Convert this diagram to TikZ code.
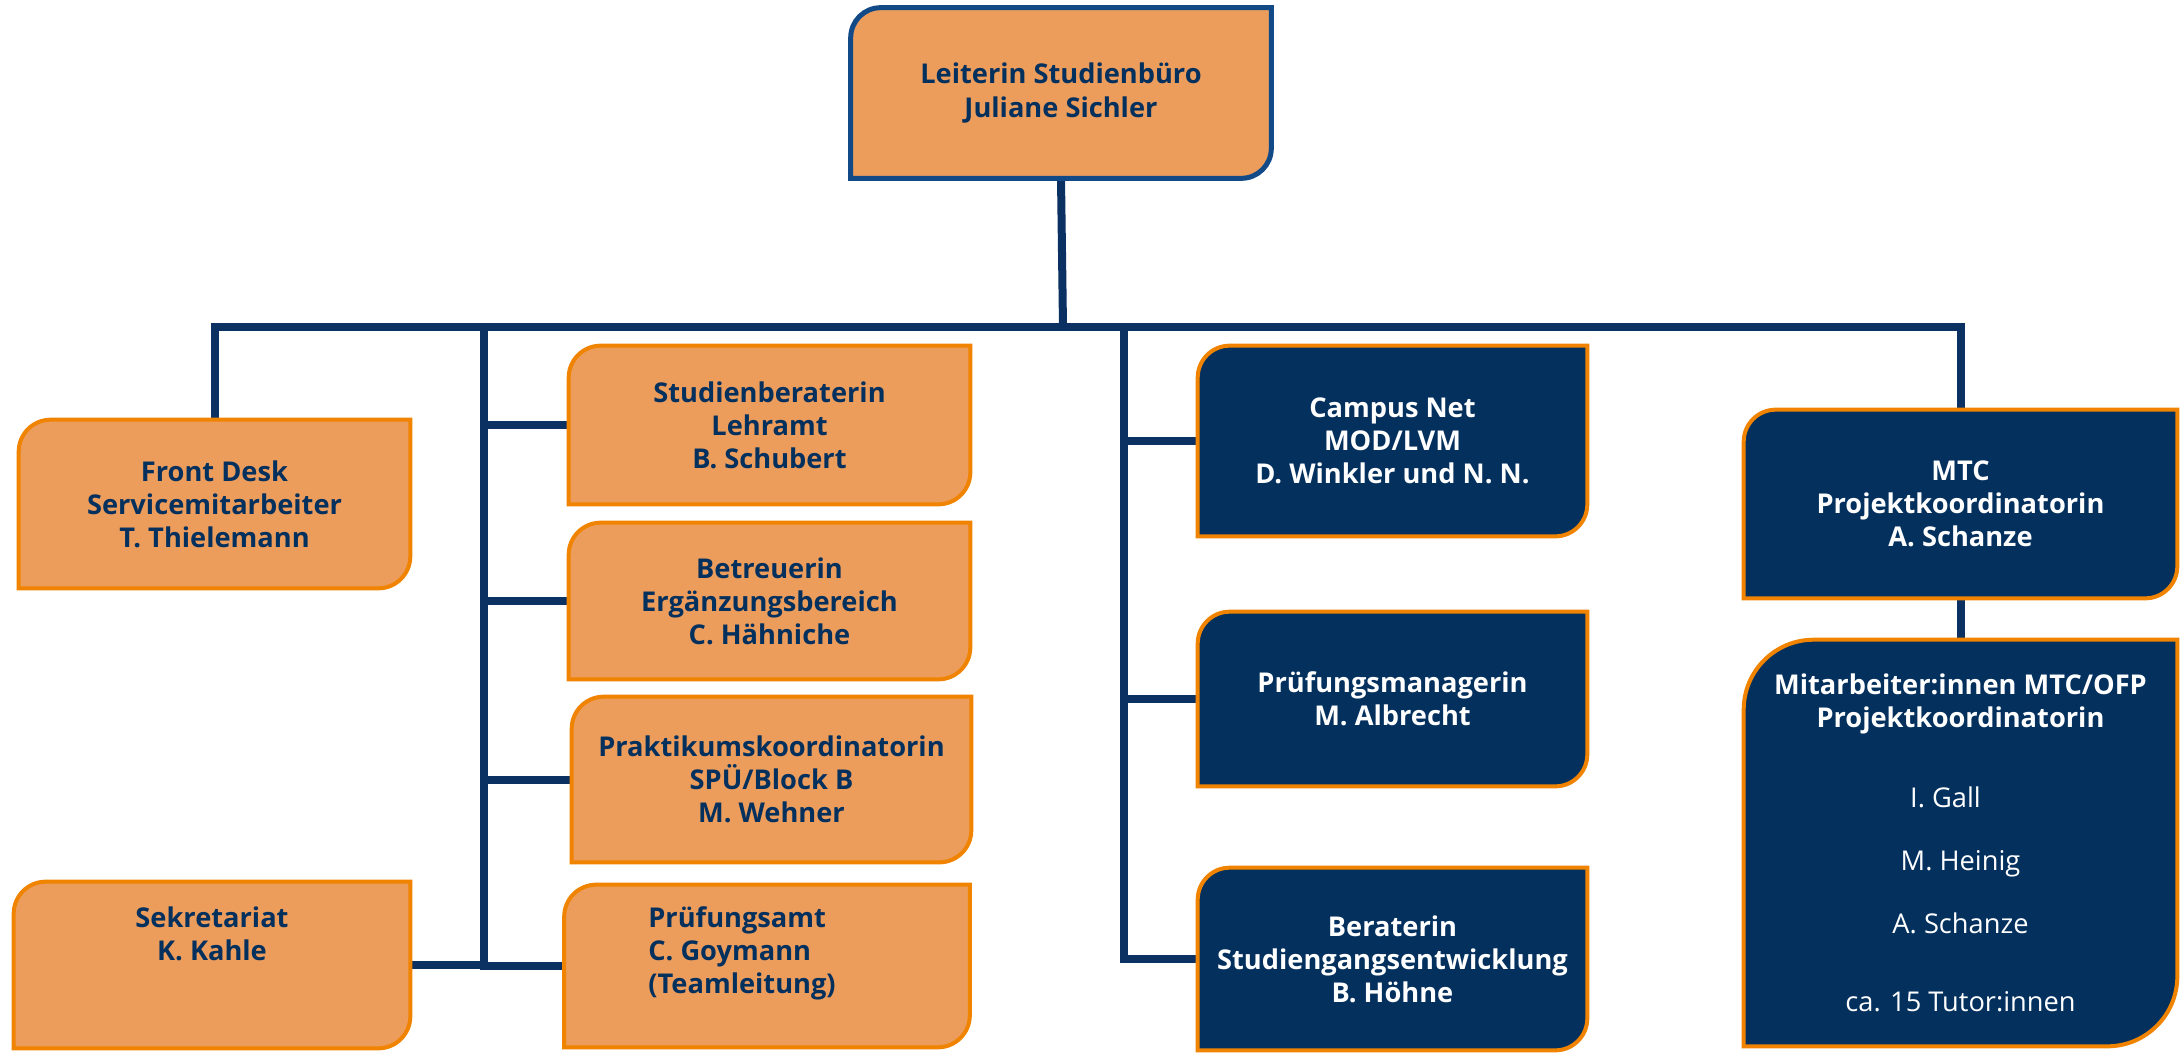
\documentclass[tikz,border=0pt]{standalone}
\usepackage{fontspec}
\setmainfont{Open Sans}
\usetikzlibrary{backgrounds}

\definecolor{navy}{HTML}{04305E}
\definecolor{linkblue}{HTML}{0B3162}
\definecolor{orangefill}{HTML}{EC9D5C}
\definecolor{orangeline}{HTML}{F08300}
\definecolor{headline}{HTML}{114A87}

% box with rounded top left and bottom right corner
\newcommand{\cornerbox}[3][]{%
  \draw[#1] (#2.south west) -- ([yshift=-#3]#2.north west)
    arc[start angle=180, end angle=90, radius=#3] -- (#2.north east)
    -- ([yshift=#3]#2.south east)
    arc[start angle=0, end angle=-90, radius=#3] -- cycle;}

\tikzset{
  orgbox/.style={inner sep=0pt, align=center, font=\fontsize{15.5}{18.8}\selectfont\bfseries},
  lightbox/.style={orgbox, text=navy},
  darkbox/.style={orgbox, text=white},
  lightshape/.style={fill=orangefill, draw=orangeline, line width=0.08cm},
  darkshape/.style={fill=navy, draw=orangeline, line width=0.08cm},
  headshape/.style={fill=orangefill, draw=headline, line width=0.1cm},
  link/.style={draw=linkblue, line width=0.16cm},
}

\begin{document}
\begin{tikzpicture}[x=0.02cm, y=0.02cm]
    \useasboundingbox (0,0) rectangle (2181,-1052);

    % head
    \node[lightbox, minimum width=8.4cm, minimum height=3.4cm] (head) at (1061,-93) {Leiterin Studienbüro\\Juliane Sichler};

    % left side
    \node[lightbox, minimum width=7.82cm, minimum height=3.36cm] (front) at (214.5,-504) {Front Desk\\Servicemitarbeiter\\T. Thielemann};
    \node[lightbox, minimum width=7.92cm, minimum height=3.32cm] (sek) at (212,-965) {Sekretariat\\K. Kahle\\[0.38cm]\strut};

    \node[lightbox, minimum width=8.02cm, minimum height=3.16cm] (studb) at (769.5,-425) {Studienberaterin\\Lehramt\\B. Schubert};
    \node[lightbox, minimum width=8.02cm, minimum height=3.12cm] (betr) at (769.5,-601) {Betreuerin\\Ergänzungsbereich\\C. Hähniche};
    \node[lightbox, minimum width=7.98cm, minimum height=3.3cm] (prakt) at (771.5,-779.5) {Praktikumskoordinatorin\\SPÜ/Block B\\M. Wehner};
    \node[lightbox, minimum width=8.1cm, minimum height=3.24cm] (pamt) at (767,-966)
        {\hbox{\raisebox{0.24cm}[\height][\depth]{\begin{tabular}{@{}l@{}}Prüfungsamt\\C. Goymann\\(Teamleitung)\end{tabular}}\kern1cm}};

    % middle
    \node[darkbox, minimum width=7.78cm, minimum height=3.8cm] (campus) at (1392.5,-441) {Campus Net\\MOD/LVM\\D. Winkler und N. N.};
    \node[darkbox, minimum width=7.78cm, minimum height=3.48cm] (pman) at (1392.5,-699) {Prüfungsmanagerin\\M. Albrecht};
    \node[darkbox, minimum width=7.78cm, minimum height=3.64cm] (berat) at (1392.5,-959) {Beraterin\\Studiengangsentwicklung\\B. Höhne};

    % right
    \node[darkbox, minimum width=8.66cm, minimum height=3.76cm] (mtc) at (1960.5,-504) {MTC\\Projektkoordinatorin\\A. Schanze};
    \node[darkbox, font=\fontsize{15.5}{18.8}\selectfont\mdseries, minimum width=8.66cm, minimum height=8.12cm] (mitarb) at (1960.5,-843)
        {\textbf{Mitarbeiter:innen MTC/OFP}\\\textbf{Projektkoordinatorin}\\[0.94cm]
         \hbox{I. Gall\kern0.6cm}\\[0.6cm]M. Heinig\\[0.6cm]A. Schanze\\[0.9cm]ca. 15 Tutor:innen};

    \coordinate (bus) at (1063,-327);
    \coordinate (lbus) at (484,-327);
    \coordinate (mbus) at (1124,-327);

    \begin{scope}[on background layer]
        \draw[link] (head.south) -- (bus);
        \draw[link] (front.north) |- (bus) -| (mtc.north);
        \draw[link] (mtc.south) -- (mitarb.north);
        \draw[link] (lbus) |- (pamt.west);
        \draw[link] (sek.east) -- (sek.east -| lbus);
        \foreach \n in {studb,betr,prakt}
            \draw[link] (\n.west -| lbus) -- (\n.west);
        \draw[link] (mbus) |- (berat.west);
        \foreach \n in {campus,pman}
            \draw[link] (\n.west -| mbus) -- (\n.west);

        \cornerbox[headshape]{head}{0.6cm}
        \foreach \n in {front,sek,studb,betr,prakt,pamt}
            {\cornerbox[lightshape]{\n}{0.64cm}}
        \foreach \n in {campus,pman,berat,mtc}
            {\cornerbox[darkshape]{\n}{0.64cm}}
        \cornerbox[darkshape]{mitarb}{1.4cm}
    \end{scope}
\end{tikzpicture}
\end{document}
